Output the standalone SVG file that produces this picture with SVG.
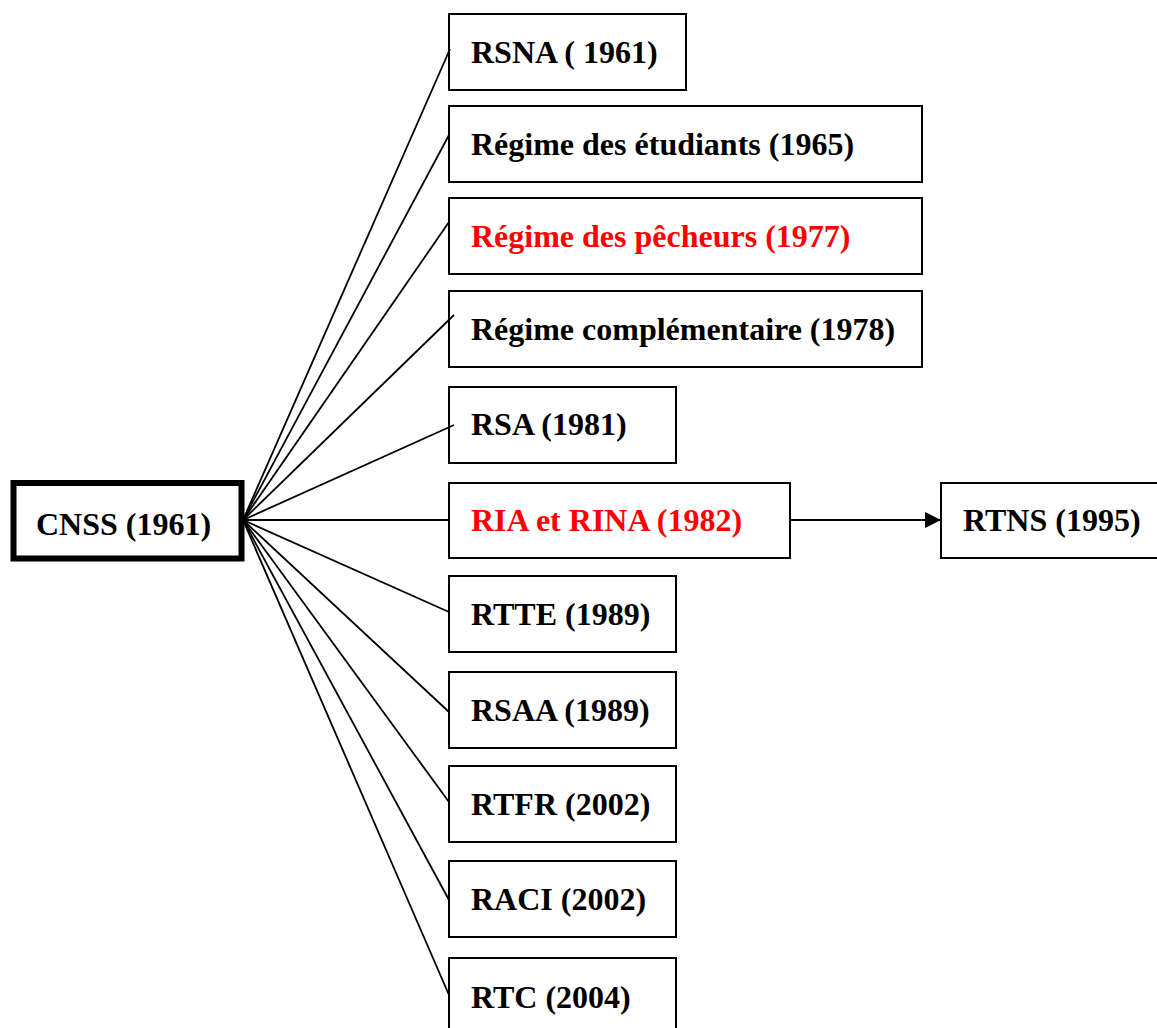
<svg xmlns="http://www.w3.org/2000/svg" width="1157" height="1028" viewBox="0 0 1157 1028">
<defs>
<style>
.box{fill:#fff;stroke:#000;stroke-width:2}
.t{font-family:"Liberation Serif","Times New Roman",serif;font-weight:bold;font-size:32px;fill:#000}
.red{fill:#ff0000}
.c{stroke:#000;stroke-width:1.8;fill:none}
</style>
<marker id="ah" markerWidth="16" markerHeight="16" refX="16" refY="8" orient="auto" markerUnits="userSpaceOnUse">
<path d="M0,0 L16,8 L0,16 Z" fill="#000"/>
</marker>
</defs>
<rect width="1157" height="1028" fill="#fff"/>
<g id="cnss">
<rect x="13.5" y="483" width="228" height="75.5" fill="#fff" stroke="#000" stroke-width="6"/>
<text class="t" x="36" y="535">CNSS (1961)</text>
</g>
<g id="rsna">
<rect class="box" x="449" y="14" width="237" height="76"/>
<text class="t" x="471" y="63">RSNA ( 1961)</text>
</g>
<g id="etudiants">
<rect class="box" x="449" y="106" width="473" height="76"/>
<text class="t" x="471" y="155">Régime des étudiants (1965)</text>
</g>
<g id="pecheurs">
<rect class="box" x="449" y="198" width="473" height="76"/>
<text class="t red" x="471" y="247">Régime des pêcheurs (1977)</text>
</g>
<g id="complementaire">
<rect class="box" x="449" y="291" width="473" height="76"/>
<text class="t" x="471" y="340">Régime complémentaire (1978)</text>
</g>
<g id="rsa">
<rect class="box" x="449" y="387" width="227" height="76"/>
<text class="t" x="471" y="435">RSA (1981)</text>
</g>
<g id="ria">
<rect class="box" x="449" y="483" width="341" height="75"/>
<text class="t red" x="471" y="531">RIA et RINA (1982)</text>
</g>
<g id="rtns">
<rect class="box" x="941" y="483" width="220" height="75"/>
<text class="t" x="963" y="531">RTNS (1995)</text>
</g>
<g id="rtte">
<rect class="box" x="449" y="576" width="227" height="76"/>
<text class="t" x="471" y="625">RTTE (1989)</text>
</g>
<g id="rsaa">
<rect class="box" x="449" y="672" width="227" height="76"/>
<text class="t" x="471" y="721">RSAA (1989)</text>
</g>
<g id="rtfr">
<rect class="box" x="449" y="766" width="227" height="76"/>
<text class="t" x="471" y="815">RTFR (2002)</text>
</g>
<g id="raci">
<rect class="box" x="449" y="861" width="227" height="76"/>
<text class="t" x="471" y="910">RACI (2002)</text>
</g>
<g id="rtc">
<rect class="box" x="449" y="958" width="227" height="80"/>
<text class="t" x="471" y="1008">RTC (2004)</text>
</g>
<g id="connectors">
<line class="c" x1="243" y1="520" x2="450" y2="49"/>
<line class="c" x1="243" y1="520" x2="449" y2="135"/>
<line class="c" x1="243" y1="520" x2="449" y2="222"/>
<line class="c" x1="243" y1="520" x2="454" y2="315"/>
<line class="c" x1="243" y1="520" x2="454" y2="425"/>
<line class="c" x1="243" y1="520" x2="449" y2="520"/>
<line class="c" x1="243" y1="520" x2="449" y2="612"/>
<line class="c" x1="243" y1="520" x2="449" y2="712"/>
<line class="c" x1="243" y1="520" x2="449" y2="802"/>
<line class="c" x1="243" y1="520" x2="449" y2="900"/>
<line class="c" x1="243" y1="520" x2="449" y2="995"/>
<line class="c" x1="790" y1="520" x2="941" y2="520" marker-end="url(#ah)"/>
</g>
</svg>
